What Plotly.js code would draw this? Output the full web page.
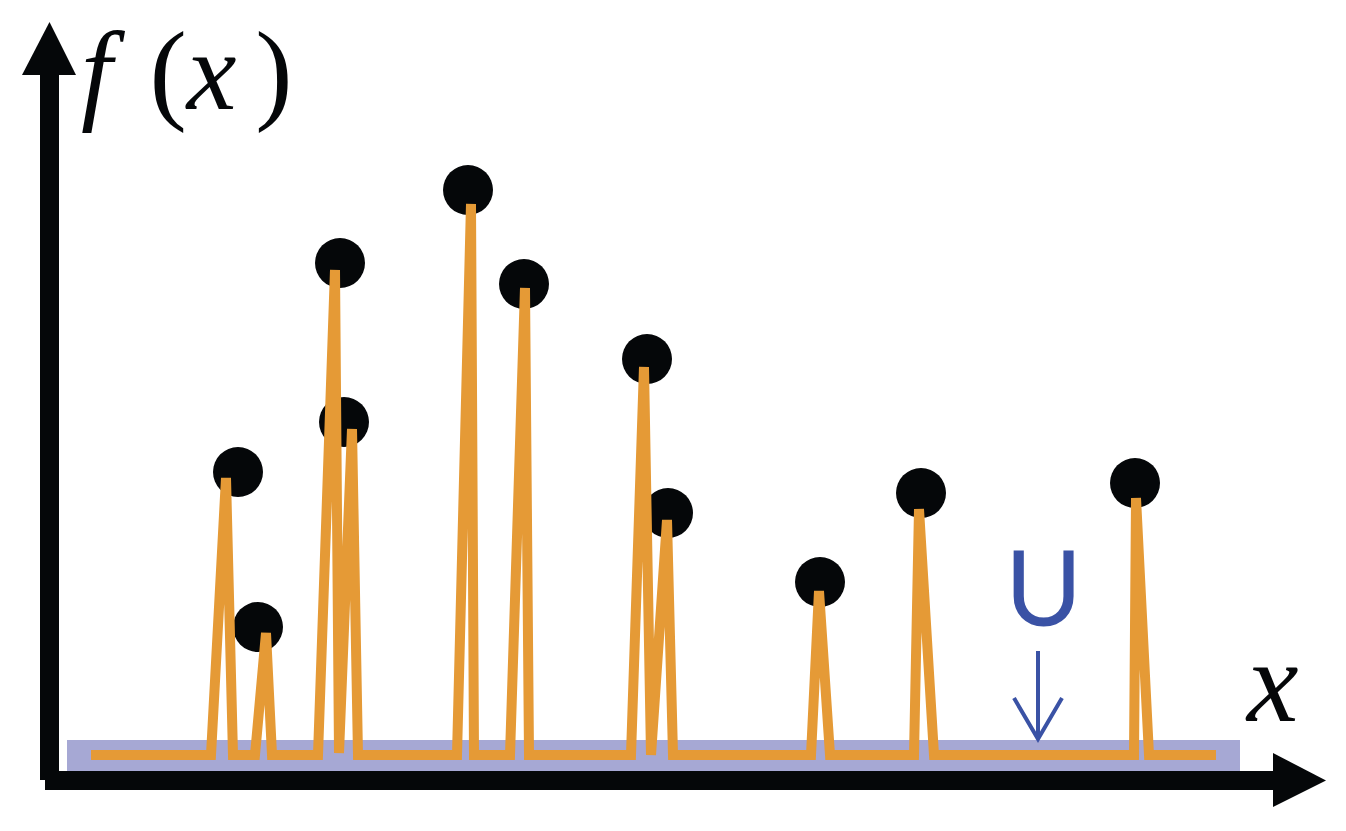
<!DOCTYPE html>
<html>
<head>
<meta charset="utf-8">
<script src="https://cdn.plot.ly/plotly-3.0.1.min.js"></script>
<style>html,body{margin:0;padding:0;background:#fff;}#chart{width:1346px;height:831px;}</style>
</head>
<body>
<div id="chart"></div>
<script>
// Orange curve f(x): vertices (x position, f value above the baseline)
const curveX = [91, 211, 226, 233, 255, 266, 272, 318, 335, 339, 352, 358, 457, 471, 474, 510, 525, 529, 631, 644, 651, 667, 673, 811, 819, 830, 914, 919, 934, 1134, 1136, 1149, 1216];
const curveF = [0, 0, 277, 0, 0, 122, 0, 0, 485, 2, 326, 0, 0, 551, 0, 0, 467, 0, 0, 388, 0, 235, 0, 0, 164, 0, 0, 246, 0, 0, 257, 0, 0];

// Black sample points near the peaks
const pointX = [238, 258, 340, 344, 468, 524, 647, 668, 820, 921, 1135];
const pointF = [283, 128, 492, 333, 565, 471, 396, 242, 173, 262, 272];

// Text labels
const yLabel = "<i>f</i>\u2004(<i>x</i>\u2006)";
const xLabel = "<i>x</i>";
const setLabel = "U";

const W = 1346, H = 831, BASE = 755;
const py = p => BASE - p; // pixel row -> f coordinate (for decorations only)

const BLACK = '#050709', ORANGE = '#e59a36', LAV = '#a6a8d4', BLUE = '#3a52a5';

const traces = [
  {x: pointX, y: pointF, mode: 'markers', type: 'scatter',
   marker: {size: 50, color: BLACK, line: {width: 0}}, hoverinfo: 'skip'},
  {x: curveX, y: curveF, mode: 'lines', type: 'scatter',
   line: {color: ORANGE, width: 10}, hoverinfo: 'skip'}
];

const shapes = [
  // lavender band (set U)
  {type: 'rect', xref: 'x', yref: 'y', x0: 67, x1: 1240, y0: py(740), y1: py(771),
   fillcolor: LAV, line: {width: 0}, layer: 'below'},
  // y axis shaft
  {type: 'rect', xref: 'x', yref: 'y', x0: 40, x1: 59, y0: py(780), y1: py(74),
   fillcolor: BLACK, line: {width: 0}},
  // x axis shaft
  {type: 'rect', xref: 'x', yref: 'y', x0: 45, x1: 1274, y0: py(790), y1: py(771),
   fillcolor: BLACK, line: {width: 0}},
  // y arrow head
  {type: 'path', xref: 'x', yref: 'y',
   path: `M 22 ${py(75)} L 49.5 ${py(22)} L 76 ${py(75)} Z`, fillcolor: BLACK, line: {width: 0}},
  // x arrow head
  {type: 'path', xref: 'x', yref: 'y',
   path: `M 1273 ${py(753)} L 1326 ${py(780.5)} L 1273 ${py(807)} Z`, fillcolor: BLACK, line: {width: 0}},
  // blue arrow
  {type: 'path', xref: 'x', yref: 'y',
   path: `M 1038 ${py(651)} L 1038 ${py(738)} M 1014 ${py(698)} L 1038 ${py(739)} L 1062 ${py(698)}`,
   line: {color: BLUE, width: 4}}
];

const annotations = [
  {text: yLabel, xref: 'x', yref: 'y', x: 80, y: py(71), xanchor: 'left', yanchor: 'middle',
   showarrow: false, borderpad: 0, font: {family: 'Liberation Serif', size: 112, color: BLACK}},
  {text: xLabel, xref: 'x', yref: 'y', x: 1272, y: py(682), xanchor: 'center', yanchor: 'middle',
   showarrow: false, borderpad: 0, font: {family: 'Liberation Serif', size: 116, color: BLACK}},
  {text: setLabel, xref: 'x', yref: 'y', x: 1043, y: py(585), xanchor: 'center', yanchor: 'middle',
   showarrow: false, borderpad: 0, font: {family: 'Lato', size: 105, color: BLUE}}
];

const layout = {
  width: W, height: H,
  margin: {l: 0, r: 0, t: 0, b: 0, pad: 0},
  paper_bgcolor: '#ffffff', plot_bgcolor: '#ffffff',
  showlegend: false,
  xaxis: {range: [0, W], visible: false, fixedrange: true},
  yaxis: {range: [BASE - H, BASE], visible: false, fixedrange: true},
  shapes: shapes,
  annotations: annotations
};

Plotly.newPlot('chart', traces, layout, {displayModeBar: false, staticPlot: true});
</script>
</body>
</html>
